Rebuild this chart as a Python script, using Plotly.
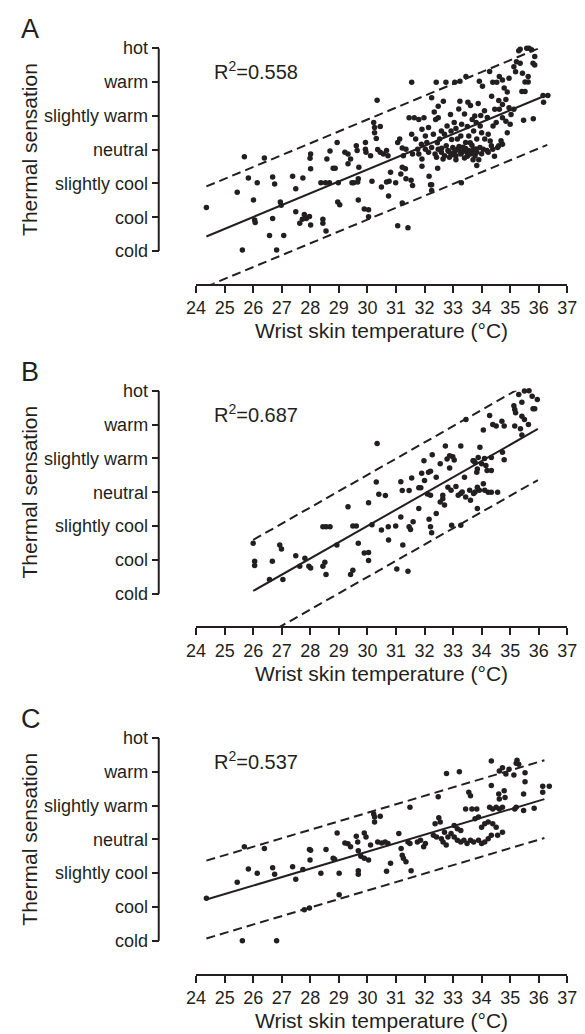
import plotly.graph_objects as go

# ---------------- data ----------------
sensation_levels = [-3, -2, -1, 0, 1, 2, 3]
sensation_labels = ["cold", "cool", "slightly cool", "neutral", "slightly warm", "warm", "hot"]
temp_ticks = list(range(24, 38))

# Panel A
A_temp = [24.36, 25.44, 25.69, 25.83, 26.01, 26.14, 26.39, 26.05, 26.07, 26.57,
          27.07, 25.62, 26.82, 26.68, 26.75, 26.68, 26.95, 26.98, 27.38, 27.49,
          27.49, 27.74, 27.79, 27.86, 27.63, 27.72, 28.01, 27.97, 28.01, 27.99,
          28.01, 28.44, 28.44, 28.55, 28.37, 28.53, 28.67, 28.58, 28.69, 28.80,
          28.87, 28.94, 28.98, 28.96, 29.03, 29.21, 29.32, 29.41, 29.32, 29.46,
          29.52, 29.66, 29.68, 29.61, 29.64, 29.93, 29.93, 29.95, 29.70, 29.68,
          29.89, 30.04, 30.04, 30.11, 30.16, 30.22, 30.25, 30.25, 30.31, 30.34,
          30.45, 30.36, 30.45, 30.56, 30.67, 30.72, 30.49, 30.67, 30.76, 30.74,
          30.81, 30.99, 31.06, 31.13, 31.22, 31.17, 31.22, 31.33, 31.06, 31.42,
          31.22, 31.26, 31.35, 31.46, 31.55, 31.64, 31.55, 31.58, 31.53, 31.76,
          31.80, 31.89, 31.91, 31.98, 32.16, 32.21, 32.25, 32.25, 32.25, 32.34,
          32.48, 32.39, 32.41, 32.46, 32.48, 32.66, 32.75, 33.06, 33.24, 33.45,
          32.03, 32.14, 32.25, 32.37, 32.48, 32.59, 32.70, 32.82, 32.93, 33.04,
          33.15, 33.27, 33.38, 33.49, 33.61, 33.72, 33.83, 33.94, 32.76, 32.99,
          33.21, 33.44, 33.66, 32.65, 32.87, 33.10, 33.32, 33.55, 33.77, 34.06,
          34.19, 34.34, 34.39, 34.56, 34.73, 31.91, 32.08, 32.53, 32.42, 32.79,
          32.93, 33.04, 32.91, 33.15, 33.27, 33.44, 33.55, 33.72, 33.83, 34.00,
          34.11, 34.23, 33.24, 33.52, 33.61, 33.88, 33.97, 33.76, 33.67, 33.81,
          33.92, 34.03, 34.28, 34.39, 34.53, 34.62, 34.73, 34.79, 34.96, 34.35,
          34.46, 34.62, 34.73, 34.85, 34.96, 34.51, 34.73, 34.85, 35.03, 33.83,
          33.29, 34.23, 34.60, 34.68, 35.30, 35.35, 35.58, 35.66, 35.75, 35.86,
          35.22, 35.35, 35.13, 35.19, 35.43, 35.63, 35.80, 35.86, 35.52, 35.63,
          35.41, 35.52, 36.15, 36.32, 36.17, 35.13, 35.47, 35.81, 31.91, 32.14,
          32.31, 32.59, 32.03, 31.69, 31.80, 31.35, 31.58,
          32.60, 32.85, 33.00, 33.20, 33.35, 33.50, 33.65, 33.80, 34.00, 33.10,
          33.40, 33.70,
          33.10, 33.30, 33.50, 33.95, 34.20, 34.40, 33.40, 33.20, 34.10, 34.60,
          34.90, 32.70, 32.95, 33.60, 34.30, 34.90, 35.00, 32.45, 33.90, 34.45]
A_vote = [-1.71, -1.26, -0.21, -0.84, -1.49, -0.98, -0.25, -2.08, -2.16, -2.54,
          -2.54, -2.97, -2.97, -0.81, -1.02, -2.04, -1.55, -1.65, -0.79, -1.16,
          -1.84, -0.84, -1.92, -2.04, -2.18, -2.06, -2.23, -1.98, -0.13, -0.26,
          -0.57, -2.06, -2.18, -2.41, -0.98, -0.98, -0.98, -0.28, -0.04, -0.55,
          -0.55, 0.21, -0.98, -1.55, -1.63, -0.08, -0.13, -0.28, -0.42, -0.98,
          -0.98, -0.96, -0.86, 0.11, -0.03, 0.21, 0.01, -0.08, -0.52, -1.49,
          -1.76, -1.78, -1.99, -0.18, -0.94, 0.80, 0.65, 0.50, 0.33, 1.46,
          0.68, 0.00, -0.08, -0.13, -0.03, -0.18, -1.11, -0.96, -0.94, -1.37,
          -0.67, -0.98, 0.21, 0.31, 0.05, -0.72, -0.52, -0.57, -2.25, -2.31,
          -1.58, -0.18, -0.86, 0.94, 0.45, 0.94, 1.99, -1.06, -0.91, 0.01,
          -0.13, 0.16, -0.49, 0.94, -0.79, -1.04, -1.04, -1.21, 1.53, 1.11,
          0.94, 0.89, 1.99, -0.55, 1.28, 1.43, 1.99, 1.99, 2.02, 2.16,
          0.01, -0.08, 0.06, -0.13, 0.01, -0.08, -0.18, -0.03, -0.13, -0.08,
          0.01, -0.13, -0.03, -0.08, -0.13, 0.01, -0.08, 0.06, 0.11, 0.06,
          0.09, 0.03, 0.13, -0.28, -0.23, -0.18, -0.08, -0.03, -0.18, 0.01,
          -0.03, 0.11, 0.01, 0.06, 0.16, -0.28, 0.21, 0.31, -0.23, 0.70,
          0.55, 0.80, 1.04, 0.31, 0.40, 0.21, 0.40, 0.55, 0.31, 0.50,
          0.31, 0.45, 1.43, 1.40, 1.30, 1.36, 1.01, 0.99, 0.89, 0.80,
          2.02, 1.87, 2.31, 1.99, 1.99, 2.16, 2.06, 1.82, 2.11, 1.58,
          1.19, 1.19, 1.33, 1.48, 1.24, 0.80, 0.94, 0.84, 1.04, -0.47,
          -0.98, -0.08, 0.11, 0.26, 2.92, 2.97, 3.00, 3.00, 2.95, 2.75,
          2.60, 2.55, 2.45, 2.30, 2.26, 2.16, 2.55, 2.50, 2.00, 2.00,
          1.72, 1.72, 1.60, 1.60, 1.40, 1.19, 0.87, 0.91, 0.60, 0.65,
          0.45, 0.55, 0.40, 0.31, 0.89, 0.01, -0.13,
          0.04, -0.06, -0.15, -0.02, 0.07, -0.20, -0.10, 0.02, -0.12, -0.30,
          -0.25, -0.30,
          0.62, 0.75, 0.68, 0.70, 0.95, 0.70, 1.05, 1.20, 1.15, 1.45,
          1.70, 0.45, 0.30, 0.20, 0.25, 0.50, 0.75, 0.20, -0.30, -0.20]
A_fit_temp = [24.36, 36.30]
A_fit_vote = [-2.57, 1.62]
A_band = 1.48
A_r2 = "0.558"

# Panel B
B_temp = [26.00, 26.05, 26.05, 26.57, 26.67, 26.93, 26.99, 27.04, 27.49, 27.63,
          27.81, 27.95, 28.01, 28.44, 28.51, 28.55, 28.44, 28.55, 28.69, 28.93,
          29.32, 29.41, 29.49, 29.49, 29.61, 29.68, 29.89, 30.04, 30.04, 30.04,
          30.16, 30.31, 30.34, 30.40, 30.63, 30.49, 30.73, 30.74, 30.99, 31.03,
          31.42, 31.17, 31.24, 31.17, 31.22, 31.46, 31.55, 31.46, 31.51, 31.60,
          31.80, 31.80, 31.87, 31.98, 32.00, 31.90, 32.14, 32.21, 32.27, 32.16,
          32.21, 32.25, 32.10, 32.21, 32.41, 32.41, 32.55, 32.79, 32.88, 32.99,
          33.04, 32.73, 33.27, 32.64, 32.64, 32.55, 32.70, 32.88, 32.95, 33.27,
          33.40, 33.61, 33.72, 33.77, 33.88, 33.83, 33.94, 34.06, 33.85, 34.15,
          34.19, 34.34, 34.34, 34.06, 34.11, 34.23, 34.34, 34.56, 34.28, 34.39,
          34.51, 34.71, 34.79, 34.73, 34.79, 33.45, 32.82, 32.93, 33.10, 33.18,
          33.27, 33.32, 33.44, 33.58, 33.72, 33.77, 33.85, 33.92, 35.30, 35.50,
          35.66, 35.77, 35.95, 35.13, 35.16, 35.41, 35.19, 35.80, 35.86, 35.41,
          35.50, 35.64, 35.16, 35.36, 35.41, 33.70, 33.85, 34.00, 34.10]
B_vote = [-1.51, -2.04, -2.17, -2.58, -2.04, -1.56, -1.68, -2.58, -1.88, -2.19,
          -1.95, -2.19, -2.24, -2.19, -2.07, -2.43, -1.02, -1.02, -1.02, -1.56,
          -0.43, -2.43, -2.31, -1.00, -1.00, -1.51, -1.80, -1.78, -2.02, -0.31,
          -0.96, 0.30, 1.44, -0.06, -0.10, -1.12, -1.02, -1.41, -1.00, -2.27,
          -2.34, -0.73, -1.56, 0.31, 0.05, 0.05, 0.42, -1.02, -1.10, -0.87,
          -0.48, 0.13, 0.13, 0.93, 0.35, 0.56, 0.59, 0.62, 1.11, -0.80,
          -1.02, -1.20, -0.05, -0.09, 0.44, -0.63, 0.84, 0.98, 1.08, 1.05,
          0.95, 1.37, 1.37, -0.09, -0.19, -0.29, -0.38, 0.72, -0.98, -0.98,
          0.44, -0.24, 0.93, 0.88, 1.03, 0.59, 1.33, 1.84, -0.48, 0.79,
          0.64, 1.03, 0.64, 0.25, 0.06, 0.00, 0.00, 0.00, 2.27, 2.00,
          1.96, 2.10, 1.96, 1.18, 0.96, 2.15, 0.15, 0.06, 0.17, -0.09,
          -0.04, 0.01, -0.14, 0.06, -0.04, 0.01, 0.15, 0.06, 2.89, 2.99,
          3.00, 2.84, 2.74, 2.56, 2.45, 2.66, 2.35, 2.47, 2.47, 2.25,
          2.15, 2.00, 1.96, 1.88, 1.69, 0.93, 0.69, 0.84, 1.00]
B_fit_temp = [26.00, 35.97]
B_fit_vote = [-2.92, 1.87]
B_band = 1.51
B_r2 = "0.687"

# Panel C
C_temp = [24.36, 25.44, 25.62, 26.82, 25.69, 25.83, 26.14, 26.39, 26.68, 26.75,
          27.38, 27.49, 27.74, 27.79, 27.97, 27.97, 27.99, 28.01, 28.37, 28.55,
          28.80, 28.85, 28.94, 29.01, 29.01, 29.21, 29.32, 29.41, 29.61, 29.66,
          29.68, 29.68, 29.68, 29.89, 29.95, 29.77, 29.89, 30.04, 30.22, 30.25,
          30.25, 30.45, 30.11, 30.36, 30.50, 30.62, 30.72, 30.67, 30.81, 31.10,
          31.18, 31.22, 31.26, 31.35, 31.53, 31.42, 31.49, 31.49, 31.75, 31.86,
          31.97, 32.03, 32.48, 32.50, 32.55, 32.37, 32.77, 33.22, 32.70, 32.82,
          32.93, 33.04, 33.15, 33.27, 33.38, 33.49, 33.61, 33.72, 33.89, 34.00,
          34.11, 34.23, 34.34, 32.31, 32.42, 32.59, 32.65, 32.76, 33.04, 33.15,
          33.27, 33.55, 33.61, 33.44, 33.66, 33.83, 33.77, 33.89, 34.00, 34.11,
          34.23, 34.34, 34.34, 34.28, 34.39, 34.51, 34.62, 34.73, 34.39, 34.51,
          34.56, 34.73, 34.60, 34.62, 34.79, 34.82, 34.62, 34.73, 34.85, 34.96,
          35.24, 35.30, 35.21, 35.52, 35.52, 35.47, 35.21, 35.16, 35.47, 35.84,
          36.14, 36.14, 36.37, 35.13]
C_vote = [-1.74, -1.27, -3.00, -3.00, -0.22, -0.88, -1.00, -0.27, -0.84, -1.03,
          -0.81, -1.18, -0.89, -2.08, -2.03, -0.30, -0.61, -0.32, -1.00, -0.30,
          -0.56, -0.59, 0.19, -1.00, -1.64, -0.11, -0.13, -0.22, 0.09, -0.08,
          -0.34, -0.93, -1.03, 0.19, 0.07, -0.50, -0.56, -0.61, 0.75, 0.66,
          0.51, 0.68, -0.17, -0.08, -0.11, -0.08, -0.12, -0.94, -0.71, 0.17,
          -0.27, -0.47, -0.56, -0.66, -0.93, -0.08, -0.12, 0.95, -0.08, -0.03,
          -0.22, -0.12, 1.26, 0.64, 0.51, 0.46, 1.95, 2.00, 0.21, 0.07,
          0.17, 0.07, -0.03, -0.08, -0.03, -0.12, -0.03, -0.08, -0.03, -0.12,
          -0.08, 0.02, 0.12, 0.12, 0.07, 0.02, -0.08, -0.17, 0.41, 0.31,
          0.26, 1.39, 1.29, 0.90, 0.90, 0.90, 0.61, 0.66, 0.36, 0.46,
          0.51, 2.32, 1.59, 0.95, 0.90, 0.95, 0.90, 0.95, 0.46, 0.36,
          0.12, 0.21, 1.34, 1.19, 1.44, 1.24, 2.02, 2.12, 1.93, 2.07,
          2.34, 2.22, 2.25, 1.97, 1.70, 1.34, 0.95, 0.90, 0.85, 0.92,
          1.39, 1.57, 1.57, 1.90]
C_fit_temp = [24.36, 36.20]
C_fit_vote = [-1.78, 1.19]
C_band = 1.15
C_r2 = "0.537"

# ---------------- layout geometry (pixels) ----------------
W, H = 585, 1034
FONT = "Liberation Sans"
INK = "#231f20"
x_left_px, x_right_px = 192.7, 577.0
yaxis_px = 154.0
panels = [
    dict(letter="A", temp=A_temp, vote=A_vote, ft=A_fit_temp, fv=A_fit_vote, band=A_band, r2=A_r2, top=38.5),
    dict(letter="B", temp=B_temp, vote=B_vote, ft=B_fit_temp, fv=B_fit_vote, band=B_band, r2=B_r2, top=384.5),
    dict(letter="C", temp=C_temp, vote=C_vote, ft=C_fit_temp, fv=C_fit_vote, band=C_band, r2=C_r2, top=735.0),
]
plot_h = 238.0
y_lo, y_hi = -3.97, 3.0
px_per_unit = plot_h / (y_hi - y_lo)

fig = go.Figure()
layout = dict(width=W, height=H, margin=dict(l=0, r=0, t=0, b=0), autosize=False,
              paper_bgcolor="white", plot_bgcolor="white", showlegend=False)
annotations = []
shapes = []

for i, p in enumerate(panels):
    n = "" if i == 0 else str(i + 1)
    xa, ya = "x" + n, "y" + n
    assert len(p["temp"]) == len(p["vote"])
    top, bottom = p["top"], p["top"] + plot_h
    dom = [1 - bottom / H, 1 - top / H]

    fig.add_trace(go.Scatter(x=p["temp"], y=p["vote"], mode="markers", xaxis=xa, yaxis=ya,
                             marker=dict(size=5.5, color=INK), cliponaxis=False))
    fig.add_trace(go.Scatter(x=p["ft"], y=p["fv"], mode="lines", xaxis=xa, yaxis=ya,
                             line=dict(color=INK, width=2)))
    for sgn in (1, -1):
        fig.add_trace(go.Scatter(x=p["ft"], y=[v + sgn * p["band"] for v in p["fv"]],
                                 mode="lines", xaxis=xa, yaxis=ya,
                                 line=dict(color=INK, width=2, dash="9px,5px")))

    layout["xaxis" + n] = dict(domain=[x_left_px / W, x_right_px / W], range=[24, 37], anchor=ya,
                               tickvals=temp_ticks, ticks="outside", ticklen=7, tickwidth=2,
                               tickcolor=INK, showline=True, linewidth=2, linecolor=INK,
                               showgrid=False, zeroline=False, ticklabeloverflow="allow",
                               tickfont=dict(family=FONT, size=18, color=INK))
    layout["yaxis" + n] = dict(domain=dom, range=[y_lo, y_hi], anchor="free", position=yaxis_px / W,
                               tickvals=sensation_levels, ticktext=sensation_labels,
                               ticks="outside", ticklen=7, tickwidth=2, tickcolor=INK,
                               showline=False, showgrid=False, zeroline=False,
                               ticklabeloverflow="allow",
                               tickfont=dict(family=FONT, size=18, color=INK))
    shapes.append(dict(type="line", xref="paper", yref=ya, x0=yaxis_px / W, x1=yaxis_px / W,
                       y0=sensation_levels[0], y1=sensation_levels[-1],
                       line=dict(color=INK, width=2)))

    neutral_px = top + (y_hi - 0) * px_per_unit
    annotations.append(dict(text=p["letter"], xref="paper", yref="paper", x=9 / W,
                            y=1 - (top - 19) / H, xanchor="left", yanchor="middle",
                            showarrow=False, font=dict(family=FONT, size=27, color=INK)))
    annotations.append(dict(text="R<sup>2</sup>=" + p["r2"], xref=xa, yref=ya, x=24.55, y=2.33,
                            xanchor="left", yanchor="middle", showarrow=False,
                            font=dict(family=FONT, size=20, color=INK)))
    annotations.append(dict(text="Thermal sensation", xref="paper", yref="paper", x=20 / W,
                            y=1 - neutral_px / H, textangle=-90, xanchor="center", yanchor="middle",
                            showarrow=False, font=dict(family=FONT, size=21, color=INK)))
    annotations.append(dict(text="Wrist skin temperature (°C)", xref="paper", yref="paper",
                            x=(x_left_px + x_right_px) / 2 / W, y=1 - (bottom + 47) / H,
                            xanchor="center", yanchor="middle", showarrow=False,
                            font=dict(family=FONT, size=21, color=INK)))

layout["annotations"] = annotations
layout["shapes"] = shapes
fig.update_layout(**layout)
fig.write_html("out.html")
